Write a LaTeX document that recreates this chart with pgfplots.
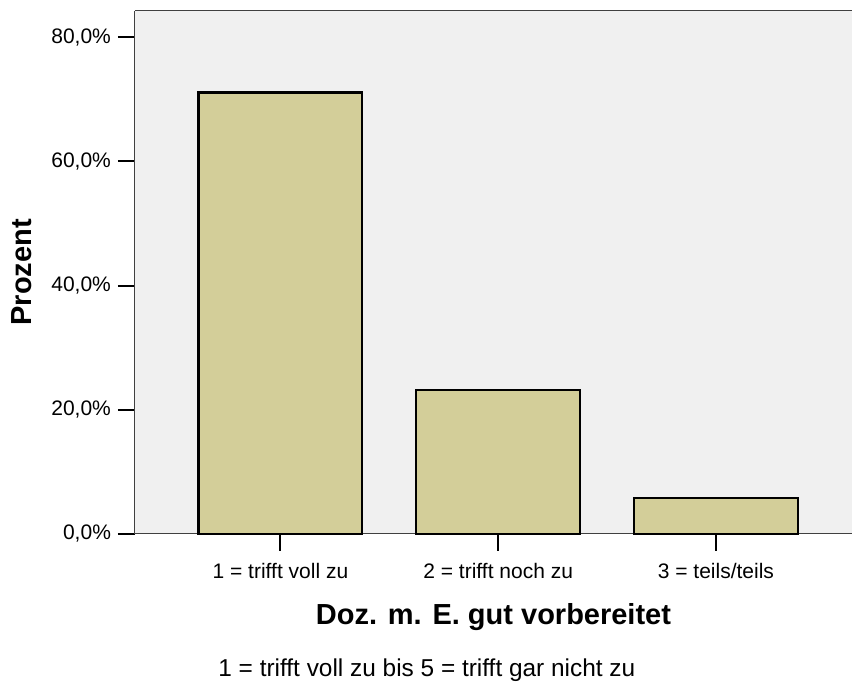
\documentclass[border=0pt]{standalone}
\usepackage{pgfplots}
\pgfplotsset{compat=1.18}
\usepackage{fontspec}
\setmainfont{Liberation Sans}
\definecolor{bg}{RGB}{240,240,240}
\definecolor{barfill}{RGB}{211,206,153}
\begin{document}
\begin{tikzpicture}
\begin{axis}[
  name=ax,
  scale only axis,
  width=358.5pt, height=261.65pt,
  xmin=-0.668, xmax=2.625,
  ymin=0, ymax=84.27,
  axis x line*=bottom, axis y line*=left,
  axis line style={draw=black!75, line width=0.5pt, -},
  axis background/.style={fill=bg},
  xtick={0,1,2},
  xticklabels={1 = trifft voll zu, 2 = trifft noch zu, 3 = teils/teils},
  ytick={0,20,40,60,80},
  yticklabels={{0,0\%},{20,0\%},{40,0\%},{60,0\%},{80,0\%}},
  tick align=outside,
  major tick length=8.5pt,
  tick style={black, line width=1pt},
  tick label style={font=\fontsize{10.5}{12}\selectfont},
  xticklabel style={anchor=base, yshift=-14pt},
  yticklabel style={anchor=east},
  xlabel={Doz. m. E. gut vorbereitet},
  xlabel style={font=\bfseries\fontsize{14.5}{17}\selectfont, at={(axis description cs:0.5,0)}, anchor=base, yshift=-45.5pt},
  ylabel={Prozent},
  ylabel style={font=\bfseries\fontsize{14.5}{17}\selectfont, at={(axis description cs:0,0.5)}, anchor=center, yshift=56.75pt},
  clip=false,
]
\addplot[ybar, bar width=81.9pt, fill=barfill, draw=black, line width=1.1pt] coordinates {(0,71.1) (1,23.2) (2,5.8)};
\draw[black!75, line width=0.5pt] (rel axis cs:0,1) -- (rel axis cs:1,1);
\node[anchor=base, font=\fontsize{12.2}{14}\selectfont] at ([yshift=-71.5pt]rel axis cs:0.407,0) {1 = trifft voll zu bis 5 = trifft gar nicht zu};
\end{axis}
\pgfresetboundingbox
\path[use as bounding box] ([xshift=-67.5pt,yshift=-76pt]ax.south west) rectangle ([yshift=5.35pt]ax.north east);
\end{tikzpicture}
\end{document}
